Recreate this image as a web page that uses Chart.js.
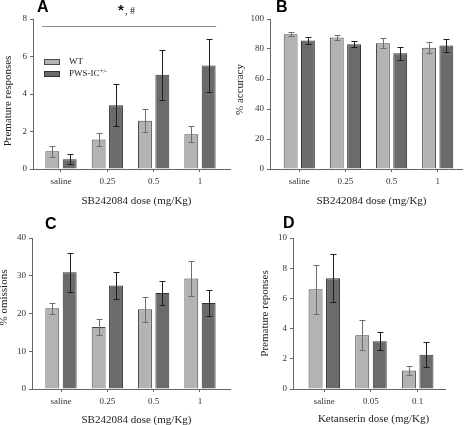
<!DOCTYPE html>
<html>
<head>
<meta charset="utf-8">
<title>SB242084 / Ketanserin panels</title>
<script src="https://cdn.jsdelivr.net/npm/chart.js@4.4.1/dist/chart.umd.min.js"></script>
<style>
    body { margin: 0; background: #fff; }
    #wrap { position: relative; width: 467px; height: 425px; overflow: hidden; }
    canvas { position: absolute; }
    .letter { position: absolute; font: bold 16px/16px 'Liberation Sans', Arial, sans-serif; color: #000; }
</style>
</head>
<body>
<div id="wrap">
    <canvas id="chart-a" width="234" height="212" style="left:0;top:0"></canvas>
    <canvas id="chart-b" width="233" height="212" style="left:234px;top:0"></canvas>
    <canvas id="chart-c" width="234" height="213" style="left:0;top:212px"></canvas>
    <canvas id="chart-d" width="233" height="213" style="left:234px;top:212px"></canvas>
    <div class="letter" style="left:37px;top:-1.5px">A</div>
    <div class="letter" style="left:276px;top:-1.5px">B</div>
    <div class="letter" style="left:45px;top:215.5px">C</div>
    <div class="letter" style="left:283px;top:214.5px">D</div>
</div>
<script>
// doses on the x axis
const doseLabels = ['saline', '0.25', '0.5', '1'];
const ketanserinLabels = ['saline', '0.05', '0.1'];
const groupNames = ['WT', 'PWS-IC'];
const groupSup = ['', '+/-'];

// A - premature responses, SB242084
const premWT = [0.95, 1.58, 2.57, 1.85];
const premWTErr = [0.30, 0.33, 0.62, 0.43];
const premPWS = [0.52, 3.40, 5.03, 5.52];
const premPWSErr = [0.27, 1.12, 1.33, 1.42];
const sigLevel = 7.63;
const sigSpan = [-0.41, 3.35];
const sigMarks = ['*', ', #'];

// B - % accuracy
const accWT = [89.8, 87.6, 83.8, 80.9];
const accWTErr = [1.4, 1.8, 3.3, 3.7];
const accPWS = [85.6, 83.1, 77.1, 82.4];
const accPWSErr = [2.5, 2.0, 4.4, 4.2];

// C - % omissions
const omWT = [21.4, 16.4, 21.1, 29.3];
const omWTErr = [1.5, 2.1, 3.4, 4.7];
const omPWS = [30.9, 27.4, 25.4, 22.8];
const omPWSErr = [5.1, 3.5, 3.1, 3.4];

// D - premature responses, ketanserin
const ketWT = [6.60, 3.56, 1.22];
const ketWTErr = [1.60, 1.00, 0.31];
const ketPWS = [7.33, 3.16, 2.27];
const ketPWSErr = [1.58, 0.59, 0.83];

const serif = "'Liberation Serif', 'Times New Roman', serif";
const axisColor = '#666';
const labelColor = '#333';

// draws the SEM bars on top of each bar
const errorBars = {
    id: 'errorBars',
    afterDatasetsDraw(chart) {
        const ctx = chart.ctx;
        const y = chart.scales.y;
        chart.data.datasets.forEach((ds, i) => {
            const meta = chart.getDatasetMeta(i);
            ctx.save();
            ctx.strokeStyle = ds.errorColor;
            ctx.lineWidth = 1;
            meta.data.forEach((bar, j) => {
                const v = ds.data[j].y;
                const e = ds.errors[j];
                const cx = Math.round(bar.x) + 0.5;
                const top = Math.round(y.getPixelForValue(v + e)) + 0.5;
                const bot = Math.round(y.getPixelForValue(v - e)) + 0.5;
                ctx.beginPath();
                ctx.moveTo(cx, top); ctx.lineTo(cx, bot);
                ctx.moveTo(cx - 3, top); ctx.lineTo(cx + 3, top);
                ctx.moveTo(cx - 3, bot); ctx.lineTo(cx + 3, bot);
                ctx.stroke();
            });
            ctx.restore();
        });
    }
};

// axis titles, placed by hand to match the figure
const axisTitles = {
    id: 'axisTitles',
    afterDraw(chart, args, opts) {
        const ctx = chart.ctx;
        ctx.save();
        ctx.fillStyle = '#222';
        ctx.font = '11px ' + serif;
        ctx.textAlign = 'center';
        ctx.textBaseline = 'middle';
        ctx.fillText(opts.xText, opts.xAt[0], opts.xAt[1]);
        ctx.translate(opts.yAt[0], opts.yAt[1]);
        ctx.rotate(-Math.PI / 2);
        ctx.fillText(opts.yText, 0, 0);
        ctx.restore();
    }
};

// significance line + legend, only used on panel A
const panelExtras = {
    id: 'panelExtras',
    afterDraw(chart, args, opts) {
        if (!opts.show) return;
        const ctx = chart.ctx;
        const {x, y} = chart.scales;
        const area = chart.chartArea;
        ctx.save();

        const yy = Math.round(y.getPixelForValue(sigLevel)) + 0.5;
        const x0 = x.getPixelForValue(sigSpan[0]);
        const x1 = x.getPixelForValue(sigSpan[1]);
        ctx.strokeStyle = '#8c8c8c';
        ctx.lineWidth = 1;
        ctx.beginPath();
        ctx.moveTo(x0, yy); ctx.lineTo(x1, yy);
        ctx.stroke();

        const cx = (x0 + x1) / 2;
        ctx.fillStyle = '#111';
        ctx.textAlign = 'left';
        ctx.textBaseline = 'alphabetic';
        ctx.font = "bold 15px 'Liberation Sans', Arial, sans-serif";
        ctx.fillText(sigMarks[0], cx - 11, yy - 12);
        ctx.font = '10px ' + serif;
        ctx.fillText(sigMarks[1], cx - 4, yy - 13);

        // legend
        chart.data.datasets.forEach((ds, i) => {
            const bx = area.left + 11;
            const by = Math.round(area.top + 40 + i * 11.5);
            ctx.fillStyle = ds.backgroundColor;
            ctx.fillRect(bx, by, 15, 5);
            ctx.strokeStyle = ds.borderColor;
            ctx.strokeRect(bx + 0.5, by + 0.5, 15, 5);
            ctx.fillStyle = '#222';
            ctx.font = '9px ' + serif;
            ctx.textBaseline = 'middle';
            ctx.fillText(groupNames[i], bx + 25, by + 3);
            if (groupSup[i]) {
                const w = ctx.measureText(groupNames[i]).width;
                ctx.font = '6px ' + serif;
                ctx.fillText(groupSup[i], bx + 25 + w + 0.5, by);
            }
        });
        ctx.restore();
    }
};

function makePanel(id, cfg) {
    const ctx = document.getElementById(id).getContext('2d');
    return new Chart(ctx, {
        type: 'bar',
        data: {
            datasets: [{
                label: groupNames[0],
                data: cfg.wt.map((v, i) => ({x: i, y: v})),
                errors: cfg.wtErr,
                backgroundColor: '#b3b3b3',
                borderColor: '#4a4a4a',
                borderWidth: 1,
                errorColor: '#6e6e6e',
            }, {
                label: groupNames[1],
                data: cfg.pws.map((v, i) => ({x: i, y: v})),
                errors: cfg.pwsErr,
                backgroundColor: '#6b6b6b',
                borderColor: '#333',
                borderWidth: 1,
                errorColor: '#1e1e1e',
            }],
        },
        options: {
            responsive: false,
            animation: false,
            categoryPercentage: 0.75,
            barPercentage: 0.8,
            layout: { padding: cfg.padding },
            plugins: {
                legend: { display: false },
                tooltip: { enabled: false },
                axisTitles: { xText: cfg.xTitle, yText: cfg.yTitle, xAt: cfg.xTitleAt, yAt: cfg.yTitleAt },
                panelExtras: { show: !!cfg.extras },
            },
            scales: {
                x: {
                    type: 'linear',
                    min: cfg.xMin,
                    max: cfg.xMax,
                    offset: false,
                    afterBuildTicks: s => { s.ticks = cfg.labels.map((_, i) => ({value: i})); },
                    ticks: {
                        callback: v => cfg.labels[v],
                        autoSkip: false,
                        maxRotation: 0,
                        padding: 4,
                        color: labelColor,
                        font: { family: serif, size: 9 },
                    },
                    grid: { offset: false, drawOnChartArea: false, tickLength: 3, color: axisColor },
                    border: { color: axisColor },
                    afterFit: s => { s.height = cfg.xHeight; },
                },
                y: {
                    min: 0,
                    max: cfg.yMax,
                    ticks: {
                        stepSize: cfg.yStep,
                        padding: 3,
                        color: labelColor,
                        font: { family: serif, size: 9 },
                    },
                    grid: { drawOnChartArea: false, tickLength: 3, color: axisColor },
                    border: { color: axisColor },
                    afterFit: s => { s.width = cfg.yWidth; },
                },
            },
        },
        plugins: [errorBars, axisTitles, panelExtras],
    });
}

makePanel('chart-a', {
    labels: doseLabels, wt: premWT, wtErr: premWTErr, pws: premPWS, pwsErr: premPWSErr,
    yMax: 8, yStep: 2, xMin: -0.604, xMax: 3.648,
    padding: { top: 19, right: 4, bottom: 0, left: 0 }, yWidth: 33, xHeight: 43,
    xTitle: 'SB242084 dose (mg/Kg)', yTitle: 'Premature responses',
    xTitleAt: [136.5, 201], yTitleAt: [8, 101],
    extras: true,
});

makePanel('chart-b', {
    labels: doseLabels, wt: accWT, wtErr: accWTErr, pws: accPWS, pwsErr: accPWSErr,
    yMax: 100, yStep: 20, xMin: -0.635, xMax: 3.527,
    padding: { top: 19, right: 5, bottom: 0, left: 0 }, yWidth: 36, xHeight: 43,
    xTitle: 'SB242084 dose (mg/Kg)', yTitle: '% accuracy',
    xTitleAt: [137.5, 201], yTitleAt: [6, 89.5],
});

makePanel('chart-c', {
    labels: doseLabels, wt: omWT, wtErr: omWTErr, pws: omPWS, pwsErr: omPWSErr,
    yMax: 40, yStep: 10, xMin: -0.626, xMax: 3.648,
    padding: { top: 26, right: 4, bottom: 0, left: 0 }, yWidth: 32, xHeight: 36,
    xTitle: 'SB242084 dose (mg/Kg)', yTitle: '% omissions',
    xTitleAt: [136.5, 208], yTitleAt: [4, 85.5],
});

makePanel('chart-d', {
    labels: ketanserinLabels, wt: ketWT, wtErr: ketWTErr, pws: ketPWS, pwsErr: ketPWSErr,
    yMax: 10, yStep: 2, xMin: -0.67, xMax: 2.585,
    padding: { top: 26, right: 22, bottom: 0, left: 0 }, yWidth: 59, xHeight: 36,
    xTitle: 'Ketanserin dose (mg/Kg)', yTitle: 'Premature reponses',
    xTitleAt: [139.5, 207], yTitleAt: [31.5, 101.5],
});
</script>
</body>
</html>
